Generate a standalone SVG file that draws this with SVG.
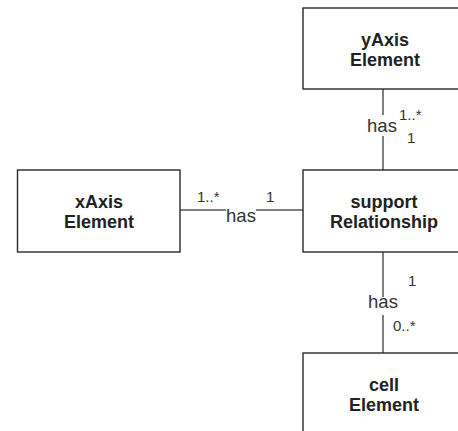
<svg xmlns="http://www.w3.org/2000/svg" width="458" height="431" viewBox="0 0 458 431">
  <style>
    .box { fill: #ffffff; stroke: #2a2a2a; stroke-width: 1.4; }
    .title { font-family: "Liberation Sans", Arial, sans-serif; font-weight: bold; font-size: 18px; fill: #222222; text-anchor: middle; }
    .edge { stroke: #555555; stroke-width: 1.5; fill: none; }
    .lbl { font-family: "Liberation Sans", Arial, sans-serif; font-size: 18.5px; fill: #333333; }
    .mult { font-family: "Liberation Sans", Arial, sans-serif; font-size: 15px; fill: #333333; }
  </style>
  <rect width="458" height="431" fill="#ffffff"/>

  <!-- associations -->
  <g id="connectors">
    <!-- yAxis to support -->
    <line class="edge" x1="383" y1="89" x2="383" y2="115"/>
    <line class="edge" x1="383" y1="136" x2="383" y2="170"/>
    <text class="lbl" x="382" y="132" text-anchor="middle">has</text>
    <text class="mult" x="399" y="120">1..*</text>
    <text class="mult" x="407" y="143">1</text>

    <!-- xAxis to support -->
    <line class="edge" x1="180" y1="210" x2="226" y2="210"/>
    <line class="edge" x1="256" y1="210" x2="303" y2="210"/>
    <text class="lbl" x="241" y="222" text-anchor="middle">has</text>
    <text class="mult" x="197" y="202">1..*</text>
    <text class="mult" x="266" y="202">1</text>

    <!-- support to cell -->
    <line class="edge" x1="383" y1="252" x2="383" y2="297"/>
    <line class="edge" x1="383" y1="315" x2="383" y2="353"/>
    <text class="lbl" x="383" y="308" text-anchor="middle">has</text>
    <text class="mult" x="408" y="286">1</text>
    <text class="mult" x="393" y="331">0..*</text>
  </g>

  <g id="yAxisElement">
    <rect class="box" x="303" y="8" width="164" height="81"/>
    <text class="title" x="385" y="46">yAxis</text>
    <text class="title" x="385" y="66">Element</text>
  </g>

  <g id="xAxisElement">
    <rect class="box" x="17.5" y="170" width="162.5" height="82"/>
    <text class="title" x="99" y="208">xAxis</text>
    <text class="title" x="99" y="228">Element</text>
  </g>

  <g id="supportRelationship">
    <rect class="box" x="303" y="170" width="164" height="82"/>
    <text class="title" x="384" y="208">support</text>
    <text class="title" x="384" y="228">Relationship</text>
  </g>

  <g id="cellElement">
    <rect class="box" x="303" y="353" width="164" height="90"/>
    <text class="title" x="384" y="391">cell</text>
    <text class="title" x="384" y="411">Element</text>
  </g>
</svg>
